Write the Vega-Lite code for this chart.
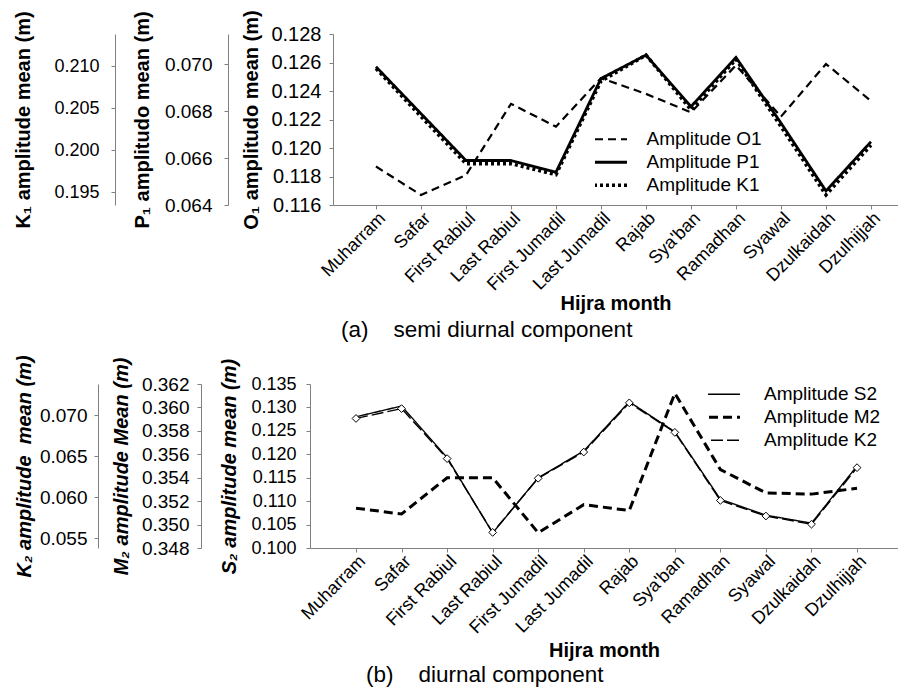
{
  "$schema": "https://vega.github.io/schema/vega-lite/v6.json",
  "background": "white",
  "padding": {"left": 13, "top": 9, "right": 0, "bottom": 0},
  "datasets": {
    "top": [
      {"month": "Muharram", "series": "Amplitude O1", "value": 0.1187},
      {"month": "Safar", "series": "Amplitude O1", "value": 0.1167},
      {"month": "First Rabiul", "series": "Amplitude O1", "value": 0.1181},
      {"month": "Last Rabiul", "series": "Amplitude O1", "value": 0.1231},
      {"month": "First Jumadil", "series": "Amplitude O1", "value": 0.1215},
      {"month": "Last Jumadil", "series": "Amplitude O1", "value": 0.1249},
      {"month": "Rajab", "series": "Amplitude O1", "value": 0.1238},
      {"month": "Sya'ban", "series": "Amplitude O1", "value": 0.1225},
      {"month": "Ramadhan", "series": "Amplitude O1", "value": 0.1258},
      {"month": "Syawal", "series": "Amplitude O1", "value": 0.1222},
      {"month": "Dzulkaidah", "series": "Amplitude O1", "value": 0.1259},
      {"month": "Dzulhijjah", "series": "Amplitude O1", "value": 0.1233},
      {"month": "Muharram", "series": "Amplitude P1", "value": 0.0699},
      {"month": "Safar", "series": "Amplitude P1", "value": 0.0679},
      {"month": "First Rabiul", "series": "Amplitude P1", "value": 0.0659},
      {"month": "Last Rabiul", "series": "Amplitude P1", "value": 0.0659},
      {"month": "First Jumadil", "series": "Amplitude P1", "value": 0.0654},
      {"month": "Last Jumadil", "series": "Amplitude P1", "value": 0.0694},
      {"month": "Rajab", "series": "Amplitude P1", "value": 0.0704},
      {"month": "Sya'ban", "series": "Amplitude P1", "value": 0.0682},
      {"month": "Ramadhan", "series": "Amplitude P1", "value": 0.0703},
      {"month": "Syawal", "series": "Amplitude P1", "value": 0.0675},
      {"month": "Dzulkaidah", "series": "Amplitude P1", "value": 0.0646},
      {"month": "Dzulhijjah", "series": "Amplitude P1", "value": 0.0667},
      {"month": "Muharram", "series": "Amplitude K1", "value": 0.2097},
      {"month": "Safar", "series": "Amplitude K1", "value": 0.2040},
      {"month": "First Rabiul", "series": "Amplitude K1", "value": 0.1984},
      {"month": "Last Rabiul", "series": "Amplitude K1", "value": 0.1984},
      {"month": "First Jumadil", "series": "Amplitude K1", "value": 0.1971},
      {"month": "Last Jumadil", "series": "Amplitude K1", "value": 0.2082},
      {"month": "Rajab", "series": "Amplitude K1", "value": 0.2113},
      {"month": "Sya'ban", "series": "Amplitude K1", "value": 0.2048},
      {"month": "Ramadhan", "series": "Amplitude K1", "value": 0.2108},
      {"month": "Syawal", "series": "Amplitude K1", "value": 0.2028},
      {"month": "Dzulkaidah", "series": "Amplitude K1", "value": 0.1947},
      {"month": "Dzulhijjah", "series": "Amplitude K1", "value": 0.2006}
    ],
    "bottom": [
      {"month": "Muharram", "series": "Amplitude S2", "value": 0.1280},
      {"month": "Safar", "series": "Amplitude S2", "value": 0.1303},
      {"month": "First Rabiul", "series": "Amplitude S2", "value": 0.1193},
      {"month": "Last Rabiul", "series": "Amplitude S2", "value": 0.1032},
      {"month": "First Jumadil", "series": "Amplitude S2", "value": 0.1150},
      {"month": "Last Jumadil", "series": "Amplitude S2", "value": 0.1207},
      {"month": "Rajab", "series": "Amplitude S2", "value": 0.1312},
      {"month": "Sya'ban", "series": "Amplitude S2", "value": 0.1248},
      {"month": "Ramadhan", "series": "Amplitude S2", "value": 0.1104},
      {"month": "Syawal", "series": "Amplitude S2", "value": 0.1070},
      {"month": "Dzulkaidah", "series": "Amplitude S2", "value": 0.1053},
      {"month": "Dzulhijjah", "series": "Amplitude S2", "value": 0.1175},
      {"month": "Muharram", "series": "Amplitude M2", "value": 0.3514},
      {"month": "Safar", "series": "Amplitude M2", "value": 0.3509},
      {"month": "First Rabiul", "series": "Amplitude M2", "value": 0.3540},
      {"month": "Last Rabiul", "series": "Amplitude M2", "value": 0.3540},
      {"month": "First Jumadil", "series": "Amplitude M2", "value": 0.3493},
      {"month": "Last Jumadil", "series": "Amplitude M2", "value": 0.3517},
      {"month": "Rajab", "series": "Amplitude M2", "value": 0.3512},
      {"month": "Sya'ban", "series": "Amplitude M2", "value": 0.3612},
      {"month": "Ramadhan", "series": "Amplitude M2", "value": 0.3547},
      {"month": "Syawal", "series": "Amplitude M2", "value": 0.3527},
      {"month": "Dzulkaidah", "series": "Amplitude M2", "value": 0.3526},
      {"month": "Dzulhijjah", "series": "Amplitude M2", "value": 0.3531},
      {"month": "Muharram", "series": "Amplitude K2", "value": 0.0696},
      {"month": "Safar", "series": "Amplitude K2", "value": 0.0708},
      {"month": "First Rabiul", "series": "Amplitude K2", "value": 0.0647},
      {"month": "Last Rabiul", "series": "Amplitude K2", "value": 0.0557},
      {"month": "First Jumadil", "series": "Amplitude K2", "value": 0.0623},
      {"month": "Last Jumadil", "series": "Amplitude K2", "value": 0.0655},
      {"month": "Rajab", "series": "Amplitude K2", "value": 0.0715},
      {"month": "Sya'ban", "series": "Amplitude K2", "value": 0.0679},
      {"month": "Ramadhan", "series": "Amplitude K2", "value": 0.0596},
      {"month": "Syawal", "series": "Amplitude K2", "value": 0.0577},
      {"month": "Dzulkaidah", "series": "Amplitude K2", "value": 0.0567},
      {"month": "Dzulhijjah", "series": "Amplitude K2", "value": 0.0636}
    ]
  },
  "align": "none",
  "bounds": "full",
  "spacing": 12,
  "resolve": {
    "scale": {"strokeDash": "independent", "x": "independent"},
    "legend": {"strokeDash": "independent"}
  },
  "vconcat": [
    {
      "width": 588,
      "height": 171,
      "data": {"name": "top"},
      "title": {"text": "(a)\u00a0\u00a0\u00a0\u00a0semi diurnal component", "orient": "bottom", "anchor": "start", "frame": "group", "fontSize": 22.5, "fontWeight": "normal", "font": "Liberation Sans", "color": "black", "offset": 5, "dx": 31},
      "encoding": {
        "x": {
          "field": "month", "type": "ordinal",
          "scale": {"type": "point", "domain": ["Muharram", "Safar", "First Rabiul", "Last Rabiul", "First Jumadil", "Last Jumadil", "Rajab", "Sya'ban", "Ramadhan", "Syawal", "Dzulkaidah", "Dzulhijjah"], "range": [23, 588], "padding": 0.778, "align": 0.614},
          "axis": {"title": "Hijra month", "labelAngle": -45, "labelPadding": 0, "titlePadding": 0}
        }
      },
      "layer": [
        {
          "transform": [{"filter": "datum.series === 'Amplitude O1'"}],
          "mark": {"type": "line", "color": "black", "strokeWidth": 2.2},
          "encoding": {
            "y": {"field": "value", "type": "quantitative", "scale": {"domain": [0.116, 0.128], "zero": false, "nice": false},
              "axis": {"orient": "left", "offset": -23, "values": [0.116, 0.118, 0.12, 0.122, 0.124, 0.126, 0.128], "format": ".3f", "title": "O₁ amplitudo mean (m)", "labelFontSize": 20, "labelPadding": 8, "titlePadding": 9}},
            "strokeDash": {"field": "series", "type": "nominal", "scale": {"domain": ["Amplitude O1", "Amplitude P1", "Amplitude K1"], "range": [[8, 5], [1, 0], [3, 3]]},
              "legend": {"orient": "none", "legendX": 285, "legendY": 94, "title": null, "clipHeight": 22.5, "labelOffset": 32.5,
                "symbolStrokeWidth": {"expr": "datum.value === 'Amplitude O1' ? 2.2 : (datum.value === 'Amplitude P1' ? 2.8 : 3.5)"}}}
          }
        },
        {
          "transform": [{"filter": "datum.series === 'Amplitude K1'"}],
          "mark": {"type": "line", "color": "black", "strokeWidth": 3.5},
          "encoding": {
            "y": {"field": "value", "type": "quantitative", "scale": {"domain": [0.1935, 0.2138], "zero": false, "nice": false},
              "axis": {"orient": "left", "offset": 195, "values": [0.195, 0.2, 0.205, 0.21], "format": ".3f", "title": "K₁ amplitude mean (m)", "labelPadding": 12, "titlePadding": 20}},
            "strokeDash": {"field": "series", "type": "nominal"}
          }
        },
        {
          "transform": [{"filter": "datum.series === 'Amplitude P1'"}],
          "mark": {"type": "line", "color": "black", "strokeWidth": 2.8},
          "encoding": {
            "y": {"field": "value", "type": "quantitative", "scale": {"domain": [0.064, 0.0713], "zero": false, "nice": false},
              "axis": {"orient": "left", "offset": 82, "values": [0.064, 0.066, 0.068, 0.07], "format": ".3f", "title": "P₁ amplitudo mean (m)", "labelFontSize": 19, "labelPadding": 12, "titlePadding": 12}},
            "strokeDash": {"field": "series", "type": "nominal"}
          }
        }
      ],
      "resolve": {"scale": {"y": "independent"}}
    },
    {
      "width": 588,
      "height": 164,
      "data": {"name": "bottom"},
      "title": {"text": "(b)\u00a0\u00a0\u00a0\u00a0diurnal component", "orient": "bottom", "anchor": "start", "frame": "group", "fontSize": 22.5, "fontWeight": "normal", "font": "Liberation Sans", "color": "black", "offset": 3, "dx": 56},
      "encoding": {
        "x": {
          "field": "month", "type": "ordinal",
          "scale": {"type": "point", "domain": ["Muharram", "Safar", "First Rabiul", "Last Rabiul", "First Jumadil", "Last Jumadil", "Rajab", "Sya'ban", "Ramadhan", "Syawal", "Dzulkaidah", "Dzulhijjah"], "padding": 0.955, "align": 0.529},
          "axis": {"title": "Hijra month", "labelAngle": -45, "labelPadding": 0, "titlePadding": 4}
        }
      },
      "layer": [
        {
          "transform": [{"filter": "datum.series === 'Amplitude S2'"}],
          "mark": {"type": "line", "color": "black", "strokeWidth": 1.4},
          "encoding": {
            "y": {"field": "value", "type": "quantitative", "scale": {"domain": [0.1, 0.135], "zero": false, "nice": false},
              "axis": {"orient": "left", "offset": 0, "values": [0.1, 0.105, 0.11, 0.115, 0.12, 0.125, 0.13, 0.135], "format": ".3f", "title": "S₂ amplitude mean (m)", "titleFontStyle": "italic", "labelPadding": 10, "titlePadding": 11}},
            "strokeDash": {"field": "series", "type": "nominal", "scale": {"domain": ["Amplitude S2", "Amplitude M2", "Amplitude K2"], "range": [[1, 0], [9, 5], [12, 4]]},
              "legend": {"orient": "none", "legendX": 398, "legendY": -1, "title": null, "labelOffset": 37, "clipHeight": 22.5,
                "symbolStrokeWidth": {"expr": "datum.value === 'Amplitude M2' ? 3 : 1.4"}}}
          }
        },
        {
          "transform": [{"filter": "datum.series === 'Amplitude M2'"}],
          "mark": {"type": "line", "color": "black", "strokeWidth": 3},
          "encoding": {
            "y": {"field": "value", "type": "quantitative", "scale": {"domain": [0.348, 0.362], "zero": false, "nice": false},
              "axis": {"orient": "left", "offset": 109, "values": [0.348, 0.35, 0.352, 0.354, 0.356, 0.358, 0.36, 0.362], "format": ".3f", "title": "M₂ amplitude Mean (m)", "titleFontStyle": "italic", "labelFontSize": 19, "labelPadding": 8, "titlePadding": 10}},
            "strokeDash": {"field": "series", "type": "nominal"}
          }
        },
        {
          "transform": [{"filter": "datum.series === 'Amplitude K2'"}],
          "encoding": {
            "y": {"field": "value", "type": "quantitative", "scale": {"domain": [0.0538, 0.0738], "zero": false, "nice": false},
              "axis": {"orient": "left", "offset": 212, "values": [0.055, 0.06, 0.065, 0.07], "format": ".3f", "title": "K₂ amplitude\u00a0 mean (m)", "titleFontStyle": "italic", "labelFontSize": 19, "labelPadding": 7, "titlePadding": 5}}
          },
          "layer": [
            {
              "mark": {"type": "line", "color": "black", "strokeWidth": 1.4},
              "encoding": {
                "strokeDash": {"field": "series", "type": "nominal"}
              }
            },
            {
              "mark": {"type": "point", "shape": "diamond", "filled": true, "fill": "white", "stroke": "black", "strokeWidth": 1, "size": 60, "opacity": 1}
            }
          ]
        }
      ],
      "resolve": {"scale": {"y": "independent"}}
    }
  ],
  "config": {
    "view": {"stroke": null},
    "font": "Liberation Sans",
    "axis": {"domainColor": "#808080", "tickColor": "#808080", "tickSize": 4, "labelColor": "black", "labelFont": "Liberation Sans", "labelFontSize": 18, "titleFont": "Liberation Sans", "titleFontSize": 20, "titleFontWeight": "bold", "titleColor": "black", "grid": false, "labelOverlap": false},
    "legend": {"labelFontSize": 19, "labelFont": "Liberation Sans", "labelColor": "black", "symbolType": "stroke", "symbolSize": 2025, "symbolStrokeColor": "black", "rowPadding": 0, "labelOffset": 10}
  }
}
